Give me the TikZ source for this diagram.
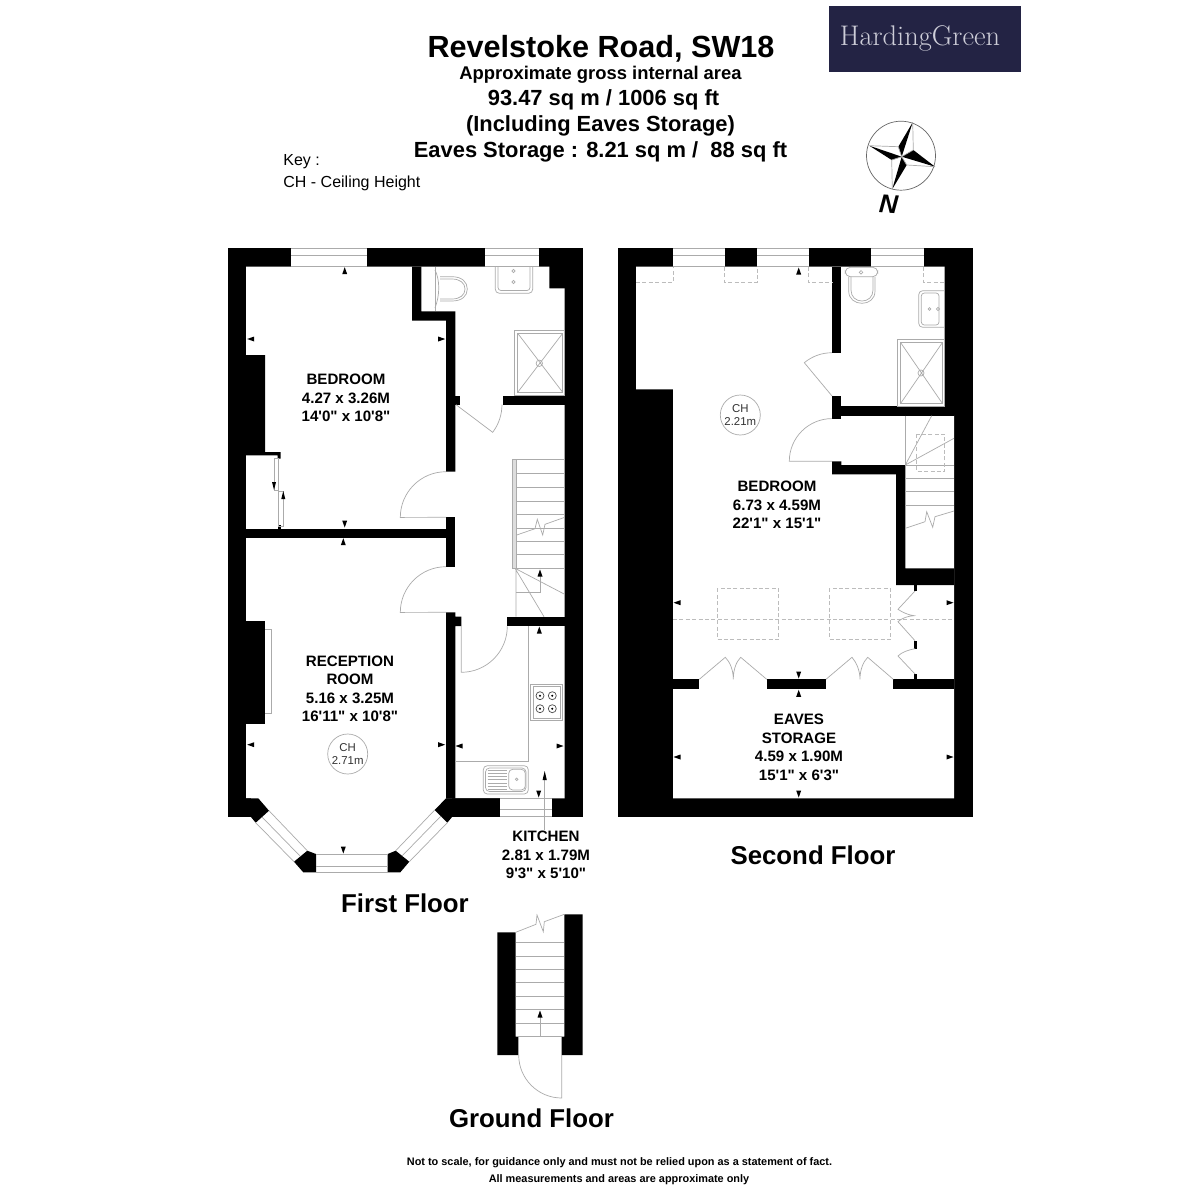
\documentclass[tikz,border=0pt]{standalone}
\usepackage{fontspec}
\setmainfont{Liberation Sans}[Ligatures=TeXOff]
\newfontfamily\logofont{Latin Modern Roman}
\usepackage{tikz}
\usetikzlibrary{calc,positioning}
\definecolor{logoblue}{HTML}{232344}
\definecolor{logotext}{HTML}{CDCDD8}
\definecolor{fineline}{HTML}{ABABAB}

\begin{document}
\begin{tikzpicture}[x=0.5pt, y=-0.5pt,
	wall/.style = {fill=black},
	room/.style = {fill=white},
	fine/.style = {draw=fineline, line width=0.35pt},
	fine dash/.style = {draw=fineline!80, line width=0.35pt, dash pattern=on 2pt off 1.2pt},
	room label/.style = {font=\bfseries\fontsize{7.55}{9.25}\selectfont, align=center, inner sep=0pt},
	floor label/.style = {font=\bfseries\fontsize{12.9}{15}\selectfont, inner sep=0pt},
	head label/.style = {font=\bfseries\fontsize{10.95}{12}\selectfont, inner sep=0pt},
	ch label/.style = {circle, draw=fineline, line width=0.35pt, minimum size=20pt, inner sep=0pt, align=center, font=\fontsize{5.7}{6.6}\selectfont, text=black!80}]
\useasboundingbox (0,0) rectangle (1200,1200);
\fill[white] (0,0) rectangle (1200,1200);

\node[font=\bfseries\fontsize{15.3}{18}\selectfont, inner sep=0pt] (title) at (601,48.5) {Revelstoke Road, SW18};
\node[font=\bfseries\fontsize{9.2}{11}\selectfont, inner sep=0pt] (area) at (600.5,75) {Approximate gross internal area};
\node[head label] (total) at (603.5,100) {93.47 sq m / 1006 sq ft};
\node[head label] (incl) at (600.5,126) {(Including Eaves Storage)};
\node[head label] (eaves area) at (600.5,152) {Eaves Storage : 8.21 sq m /\ \ 88 sq ft};
\node[font=\fontsize{8}{10}\selectfont, inner sep=0pt, anchor=west] (key) at (283,161.5) {Key :};
\node[font=\fontsize{8}{10}\selectfont, inner sep=0pt, anchor=west] (key ch) at (283,183.5) {CH - Ceiling Height};

\node[fill=logoblue, minimum width=95.8pt, minimum height=32.8pt, inner sep=0pt] (logo) at (924.8,38.8) {};
\node[text=logotext, font=\logofont\fontsize{14.2}{16}\selectfont, inner sep=0pt] (logo text) at (920,38) {HardingGreen};

\draw[draw=black!60, line width=0.35pt] (901,155.7) circle[radius=34.5];
\fill (912.7,122.3) -- (898.3,146.7) -- (901.7,156.7) -- cycle;
\fill (869.3,145.7) -- (891.7,160) -- (901.7,156.7) -- cycle;
\fill (892.3,189) -- (906.7,165) -- (901.7,156.7) -- cycle;
\fill (935,166.7) -- (913.3,150) -- (901.7,156.7) -- cycle;
\draw[fine] (912.7,122.3) -- (913.3,150) -- (901.7,156.7);
\draw[fine] (869.3,145.7) -- (898.3,146.7) -- (901.7,156.7);
\draw[fine] (892.3,189) -- (891.7,160) -- (901.7,156.7);
\draw[fine] (935,166.7) -- (906.7,165) -- (901.7,156.7);
\node[font=\bfseries\itshape\fontsize{13}{14}\selectfont, inner sep=0pt, rotate=-4] (north) at (888.5,204) {N};

% first floor
\fill[wall] (228,248.3) rectangle (583,816.7);
\fill[room] (246,266.7) -- (549.3,266.7) -- (549.3,288.3) -- (564.7,288.3) -- (564.7,798.3) -- (246,798.3) -- cycle;
\fill[room] (250.7,798.3) rectangle (452.3,817);
\fill[wall] (412,266.7) -- (421.3,266.7) -- (421.3,311.3) -- (455.3,311.3) -- (455.3,471.7) -- (446,471.7) -- (446,320.7) -- (412,320.7) -- cycle;
\fill[wall] (455,395.7) rectangle (460,404.7);
\fill[wall] (502.7,395.7) rectangle (565,404.7);
\fill[wall] (246,355) -- (265,355) -- (265,452) -- (280.7,452) -- (280.7,458.7) -- (277.5,458.7) -- (277.5,455.3) -- (246,455.3) -- cycle;
\fill[wall] (246,528.7) rectangle (446,538);
\fill[wall] (277.5,525) rectangle (280.7,529);
\fill[wall] (446,517.3) rectangle (455.3,566.7);
\fill[wall] (446,612.3) -- (455.3,612.3) -- (455.3,616.7) -- (461.3,616.7) -- (461.3,626) -- (455.3,626) -- (455.3,798.5) -- (446,798.5) -- cycle;
\fill[wall] (507.3,616.7) rectangle (565,626);
\fill[wall] (246,620.7) rectangle (265,724.3);
\fill[wall] (246,798.3) -- (258.3,798.3) -- (269,810.7) -- (255.7,822.7) -- (250.7,816.7) -- (246,816.7) -- cycle;
\fill[wall] (294,861.7) -- (307.3,850.7) -- (316,854) -- (316,872.3) -- (303.3,872.3) -- cycle;
\fill[wall] (387.7,854) -- (395.7,850.7) -- (409.3,861.7) -- (400.3,872.3) -- (387.7,872.3) -- cycle;
\fill[wall] (446,798.3) -- (500,798.3) -- (500,816.7) -- (452.3,816.7) -- (447.3,822.7) -- (434.7,810) -- cycle;
% windows
\foreach \xa/\xb in {291/367, 485/539} {
	\fill[room] (\xa,248.3) rectangle (\xb,266.7);
	\draw[fine] (\xa,248.3) -- (\xb,248.3) (\xa,255) -- (\xb,255) (\xa,266.7) -- (\xb,266.7);
}
\fill[room] (500,798.3) rectangle (552.3,816.7);
\draw[fine] (500,798.3) -- (552.3,798.3) (500,809) -- (552.3,809) (500,816.7) -- (552.3,816.7);
\draw[fine] (316,854) -- (387.7,854) (316,866) -- (387.7,866) (316,872.3) -- (387.7,872.3);
\draw[fine] (269,810.7) -- (307.3,850.7) (262,817) -- (300,856) (255.7,822.7) -- (294,861.7);
\draw[fine] (395.7,850.7) -- (434.7,810) (402,856) -- (441,816) (409.3,861.7) -- (447.3,822.7);
\draw[fine] (265,629.3) -- (271.7,629.3) -- (271.7,713.3) -- (265,713.3);
% doors
\draw[fine] (446,471.7) arc[start angle=-90, end angle=-180, radius=45.7] -- (446,517.3);
\draw[fine] (446,566.7) arc[start angle=-90, end angle=-180, radius=45.7] -- (446,612.3);
\draw[fine] (456,404.7) -- (492.7,432.3) arc[start angle=37, end angle=0, radius=46];
\draw[fine] (461.3,626) -- (461.3,672.3) arc[start angle=90, end angle=0, radius=46];
% wardrobe
\draw[fine] (274,458.7) rectangle (278.7,490);
\draw[fine] (278.7,491.7) rectangle (283.3,526.7);
% bathroom
\draw[fine] (435,267) -- (435,311);
\draw[fine] (435,270) .. controls (440,280) and (440,295) .. (435,308);
\draw[fine] (440,276.7) -- (452,276.7) .. controls (462,276.7) and (467.3,282) .. (467.3,289) .. controls (467.3,296) and (462,301) .. (452,301) -- (440,301);
\draw[fine] (440,279) -- (452,279) .. controls (460,279) and (465,283) .. (465,289) .. controls (465,295) and (460,299) .. (452,299) -- (440,299);
\draw[fine, rounded corners=2pt] (495.3,267) -- (495.3,293.3) -- (532.7,293.3) -- (532.7,267);
\draw[fine, rounded corners=1.5pt] (498,267) -- (498,290.5) -- (530,290.5) -- (530,267);
\draw[fine] (513.5,271) circle[radius=1.6] (513.5,282) circle[radius=1.6];
\draw[fine] (514,330) rectangle (564.7,395.7);
\draw[fine] (517.7,333.3) rectangle (562.7,392.3);
\draw[fine] (539.3,363.3) circle[radius=3.2];
\draw[fine] (517.7,333.3) -- (562.7,392.3) (562.7,333.3) -- (517.7,392.3);
% stairs
\fill[fineline!40] (512.7,459.3) rectangle (516,568.3);
\draw[fine] (512.7,459.3) rectangle (516,568.3);
\foreach \y in {459.3,473.7,487,501,514.7,528,541,554.7,568.3}
	\draw[fine] (516,\y) -- (564.7,\y);
\draw[fine] (516.7,535) -- (535,528.7) -- (537.3,519.3) -- (542.7,535) -- (545,524.3) -- (564.7,517.3);
\draw[fine] (516,568.3) -- (516,616.7) (515,568.3) -- (564.7,594.3) (515,568.3) -- (544,616.7);
\draw[fine] (516,592.3) -- (540,592.3) -- (540,575);
% kitchen
\draw[fine] (528.3,626) -- (528.3,761.7) -- (455,761.7);
\draw[fine] (530.7,684.3) rectangle (562,720);
\draw[fine] (533,686.5) rectangle (560,718);
\foreach \x/\y in {540/695.7, 552.3/695.7, 540/708.7, 552.3/708.7} {
	\draw[fine, draw=black!70] (\x,\y) circle[radius=4];
	\fill (\x,\y) circle[radius=1.1];
}
\draw[fine, rounded corners=2pt] (483.3,765.7) rectangle (528.3,794);
\draw[fine, rounded corners=2pt] (485.5,768) rectangle (526,791.5);
\draw[fine, rounded corners=2pt] (508.7,769.3) rectangle (525.3,790);
\draw[fine] (516.7,779.3) circle[radius=1.3];
\foreach \y in {770,773,776,779.5,783,786,789}
	\draw[fine] (487.7,\y) -- (507.3,\y);
\coordinate (kitchen top) at (544.7,830);
\coordinate (kitchen end) at (544.7,776);
\draw[fine] (kitchen top) -- (kitchen end);
\fill (544.7,771) -- (546.8,780) -- (542.6,780) -- cycle;

\node[room label] (bedroom one) at (346,398) {BEDROOM\\4.27 x 3.26M\\14'0" x 10'8"};
\node[room label] (reception) at (350,689) {RECEPTION\\ROOM\\5.16 x 3.25M\\16'11" x 10'8"};
\node[room label] (kitchen) at (546,855) {KITCHEN\\2.81 x 1.79M\\9'3" x 5'10"};
\node[ch label] (ch one) at (347.7,754) {CH\\2.71m};
\node[floor label] (first floor) at (405,903) {First Floor};

% second floor
\fill[wall] (618,248.3) rectangle (972.7,816.7);
\fill[room] (636,266.7) -- (944.7,266.7) -- (944.7,415.7) -- (954,415.7) -- (954,798.3) -- (673,798.3) -- (673,389.3) -- (636,389.3) -- cycle;
\foreach \xa/\xb in {673/724.7, 757/808.7, 871.3/923.7} {
	\fill[room] (\xa,248.3) rectangle (\xb,266.7);
	\draw[fine] (\xa,248.3) -- (\xb,248.3) (\xa,255) -- (\xb,255) (\xa,266.7) -- (\xb,266.7);
}
\fill[wall] (832,266.7) rectangle (841.3,353.3);
\fill[wall] (832,396) rectangle (841.3,419);
\fill[wall] (841.3,406) rectangle (954,415.7);
\fill[wall] (832,461.3) -- (841.3,461.3) -- (841.3,465) -- (905.3,465) -- (905.3,568.3) -- (954,568.3) -- (954,585) -- (896,585) -- (896,474.3) -- (832,474.3) -- cycle;
\fill[wall] (673,679.3) rectangle (699.3,688.7);
\fill[wall] (766.7,679.3) rectangle (826,688.7);
\fill[wall] (893.3,679.3) rectangle (954,688.7);
\fill[wall] (914,585) rectangle (917.3,591);
\fill[wall] (914,640.7) rectangle (917.3,648.7);
\fill[wall] (914,674) rectangle (917.3,679.3);
\draw[fine dash] (636,282.3) -- (673,282.3) -- (673,266.7);
\draw[fine dash] (724.7,266.7) -- (724.7,282.3) -- (757,282.3) -- (757,266.7);
\draw[fine dash] (808.7,266.7) -- (808.7,282.3) -- (832,282.3);
\draw[fine dash] (923.7,266.7) -- (923.7,282.3) -- (944.7,282.3);
\draw[fine dash] (673,619) -- (954,619);
\draw[fine dash] (717.3,588.3) rectangle (778.7,639.3);
\draw[fine dash] (829.3,588.3) rectangle (890.7,639.3);
\draw[fine] (832,396) -- (804.3,362.7) arc[start angle=-129.8, end angle=-90, radius=43];
\draw[fine] (832,418.6) arc[start angle=-90, end angle=-180, radius=42.7] -- (832,461.3);
\draw[fine] (699.3,679.3) -- (725.3,657.3) .. controls (730,662) and (733.3,670) .. (733.3,679.3) (733.3,679.3) .. controls (733.3,670) and (736,662) .. (740.7,657.3) -- (766.7,679.3);
\draw[fine] (826,679.3) -- (852,657.3) .. controls (856,662) and (860,670) .. (860,679.3) (860,679.3) .. controls (860,670) and (863,662) .. (867.7,657.3) -- (893.3,679.3);
\draw[fine] (915,591) -- (898,609.3) .. controls (902,612) and (908,615) .. (914,615.7) .. controls (908,616) and (902,618) .. (898,621.7) -- (915,640.7);
\draw[fine] (915,648.7) .. controls (908,650) and (902,652) .. (898,656) -- (915,674);
% upstairs bathroom
\draw[fine, rounded corners=2.5pt] (845.3,267.3) rectangle (877.7,276.7);
\draw[fine] (861,272.3) circle[radius=1.8];
\draw[fine] (848.7,276.7) -- (848.7,291) .. controls (848.7,299) and (855,303.3) .. (862,303.3) .. controls (869,303.3) and (875,299) .. (875,291) -- (875,276.7);
\draw[fine] (851,276.7) -- (851,290) .. controls (851,297) and (856,301) .. (862,301) .. controls (868,301) and (873,297) .. (873,290) -- (873,276.7);
\draw[fine, rounded corners=2pt] (944.7,290.7) -- (918.7,290.7) -- (918.7,327.3) -- (944.7,327.3);
\draw[fine, rounded corners=1.5pt] (939,293) -- (921.3,293) -- (921.3,325) -- (939,325) -- cycle;
\draw[fine] (929.5,309) circle[radius=1.3] (938,309) circle[radius=1.6];
\draw[fine] (897.3,339.3) rectangle (944.7,406);
\draw[fine] (900.7,342.7) rectangle (942.3,403.3);
\draw[fine] (921,373) circle[radius=3];
\draw[fine] (900.7,342.7) -- (942.3,403.3) (942.3,342.7) -- (900.7,403.3);
% upstairs flight
\draw[fine] (905.3,415.7) -- (905.3,465) -- (954,465);
\draw[fine] (905.3,465) -- (931.7,415.7) (905.3,465) -- (954,438.3);
\draw[fine dash] (916.7,434.3) rectangle (944.7,471.7);
\foreach \y in {478.3,491.7,505}
	\draw[fine] (905.3,\y) -- (954,\y);
\draw[fine] (905.3,528.3) -- (925,521.7) -- (926.7,511.7) -- (932.7,527.3) -- (935,516.7) -- (954,511);

\node[ch label] (ch two) at (740.3,415) {CH\\2.21m};
\node[room label] (bedroom two) at (777,505) {BEDROOM\\6.73 x 4.59M\\22'1" x 15'1"};
\node[room label] (eaves) at (799,747.5) {EAVES\\STORAGE\\4.59 x 1.90M\\15'1" x 6'3"};
\node[floor label] (second floor) at (813,855) {Second Floor};

% ground floor
\fill[wall] (497.3,932.3) -- (515.7,932.3) -- (515.7,1036.7) -- (518.3,1036.7) -- (518.3,1055) -- (497.3,1055) -- cycle;
\fill[wall] (564.3,914.3) -- (582.7,914.3) -- (582.7,1055) -- (561.7,1055) -- (561.7,1036.7) -- (564.3,1036.7) -- cycle;
\foreach \y in {942.3,956,969.3,982.7,996,1009.3,1023.3,1036.7}
	\draw[fine] (515.7,\y) -- (564.3,\y);
\draw[fine] (515.7,932.3) -- (536,924.3) -- (537,915) -- (543.3,931.7) -- (544.3,921.7) -- (564.3,914.3);
\draw[fine] (540,1036.7) -- (540,1017);
\draw[fine] (518.7,1055) arc[start angle=180, end angle=90, radius=43] -- (561.7,1055);
\node[floor label] (ground floor) at (531.5,1118) {Ground Floor};

% room sizes
\foreach \x/\y in {344.7/270.7, 343.3/541.7, 539.3/630, 540/573, 798.7/271, 798.7/693.3, 540/1014}
	\fill (\x,\y-3.5) -- (\x+2.5,\y+3.5) -- (\x-2.5,\y+3.5) -- cycle;
\foreach \x/\y in {344.7/524, 343.3/850, 538.7/794, 798.7/675, 798.7/794}
	\fill (\x,\y+3.5) -- (\x+2.5,\y-3.5) -- (\x-2.5,\y-3.5) -- cycle;
\foreach \x/\y in {250.7/339, 250.7/744.7, 459/746, 677/602.7, 677/757}
	\fill (\x-3.5,\y) -- (\x+3.5,\y+2.5) -- (\x+3.5,\y-2.5) -- cycle;
\foreach \x/\y in {441.7/339, 441.7/744.7, 560/746, 950/602.7, 950/757}
	\fill (\x+3.5,\y) -- (\x-3.5,\y+2.5) -- (\x-3.5,\y-2.5) -- cycle;
\fill (274,490) -- (276,482) -- (272,482) -- cycle;
\fill (283.3,491) -- (285.3,499) -- (281.3,499) -- cycle;

\node[font=\bfseries\fontsize{5.45}{7}\selectfont, inner sep=0pt] (note one) at (619.5,1163) {Not to scale, for guidance only and must not be relied upon as a statement of fact.};
\node[font=\bfseries\fontsize{5.45}{7}\selectfont, inner sep=0pt] (note two) at (619,1180) {All measurements and areas are approximate only};
\end{tikzpicture}
\end{document}
